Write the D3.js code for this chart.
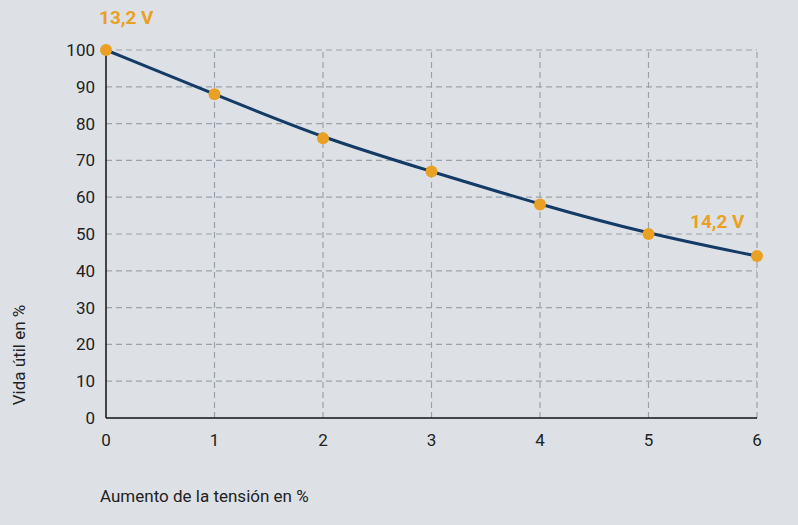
<!DOCTYPE html>
<html><head><meta charset="utf-8">
<script src="https://cdn.jsdelivr.net/npm/d3@7"></script>
<style>body{margin:0;background:#dde1e5;}</style>
</head><body><div id="chart"></div>
<script>
const increase = [0, 1, 2, 3, 4, 5, 6];
const life = [100, 88, 76, 67, 58, 50, 44];
const yTicks = [0, 10, 20, 30, 40, 50, 60, 70, 80, 90, 100];

const w = 798, h = 525;
const svg = d3.select('#chart').append('svg').attr('width', w).attr('height', h)
    .style('font-family', 'Roboto, "DejaVu Sans", sans-serif');
svg.append('rect').attr('width', w).attr('height', h).attr('fill', '#dde1e5');

const x = d3.scaleLinear().domain([0, 6]).range([106, 757]);
const y = d3.scaleLinear().domain([0, 100]).range([418, 50]);
const grid = '#9aa3ab';

// grid
svg.selectAll('line.gy').data(yTicks.filter(d => d > 0)).enter().append('line')
    .attr('x1', x(0)).attr('x2', x(6)).attr('y1', y).attr('y2', y)
    .attr('stroke', grid).attr('stroke-width', 1.2).attr('stroke-dasharray', '6,4');
svg.selectAll('line.gx').data(increase.filter(d => d > 0)).enter().append('line')
    .attr('x1', x).attr('x2', x).attr('y1', y(0)).attr('y2', y(100))
    .attr('stroke', grid).attr('stroke-width', 1.2).attr('stroke-dasharray', '6,4');

// axes
svg.append('line').attr('x1', x(0)).attr('x2', x(6)).attr('y1', y(0)).attr('y2', y(0))
    .attr('stroke', '#111').attr('stroke-width', 1.5);
svg.append('line').attr('x1', x(0)).attr('x2', x(0)).attr('y1', y(0)).attr('y2', y(100))
    .attr('stroke', '#111').attr('stroke-width', 1.5);

svg.selectAll('text.yt').data(yTicks).enter().append('text')
    .attr('x', 95).attr('y', d => y(d) + 6).attr('text-anchor', 'end')
    .attr('font-size', 17).attr('fill', '#222').text(d => d);
svg.selectAll('text.xt').data(increase).enter().append('text')
    .attr('x', x).attr('y', 446).attr('text-anchor', 'middle')
    .attr('font-size', 17).attr('fill', '#222').text(d => d);

svg.append('text').attr('transform', 'translate(25,' + 355 + ') rotate(-90)')
    .attr('text-anchor', 'middle').attr('font-size', 17).attr('fill', '#222').text('Vida útil en %');
svg.append('text').attr('x', 100).attr('y', 502).attr('font-size', 17).attr('fill', '#222')
    .text('Aumento de la tensión en %');

// line
const pts = increase.map((d, i) => [d, life[i]]);
svg.append('path').datum(pts)
    .attr('d', d3.line().x(d => x(d[0])).y(d => y(d[1])).curve(d3.curveBasis))
    .attr('fill', 'none').attr('stroke', '#143a66').attr('stroke-width', 3);
svg.selectAll('circle').data(pts).enter().append('circle')
    .attr('cx', d => x(d[0])).attr('cy', d => y(d[1])).attr('r', 6).attr('fill', '#e9a023');

svg.append('text').attr('x', 99).attr('y', 24).attr('font-size', 19).attr('font-weight', 'bold')
    .attr('fill', '#e9a023').text('13,2 V');
svg.append('text').attr('x', 690).attr('y', 228).attr('font-size', 19).attr('font-weight', 'bold')
    .attr('fill', '#e9a023').text('14,2 V');
</script></body></html>
